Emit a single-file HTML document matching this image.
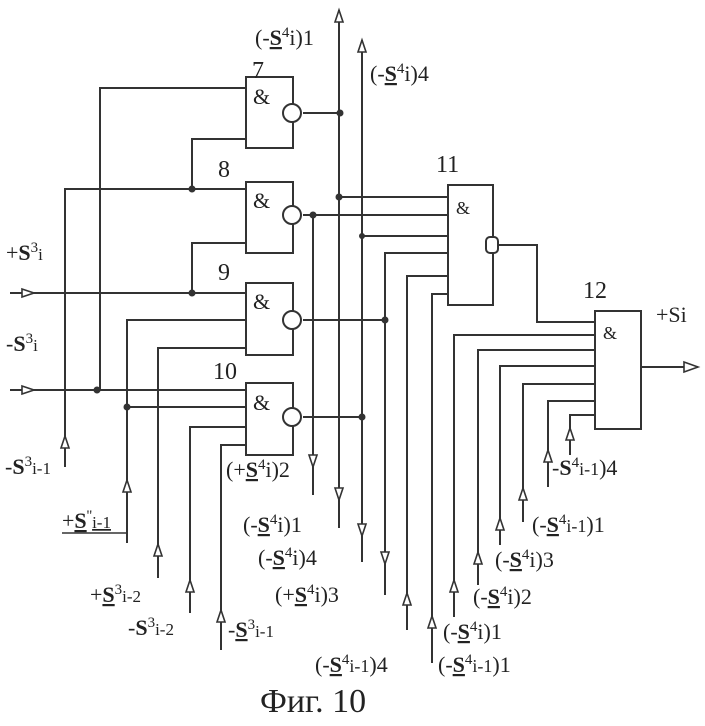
<!DOCTYPE html>
<html><head><meta charset="utf-8"><style>
html,body{margin:0;padding:0;background:#fff;}
svg{display:block;}
text{font-family:"Liberation Serif",serif;fill:#222;}
.l{stroke:#333;stroke-width:2;fill:none;}
.g{stroke:#333;stroke-width:2;fill:#fff;}
.d{fill:#333;}
.a{stroke:#333;stroke-width:1.6;fill:#fff;}
</style></head><body>
<svg width="705" height="726" viewBox="0 0 705 726" xmlns="http://www.w3.org/2000/svg">
<polyline class="l" points="246,88 100,88 100,390"/>
<polyline class="l" points="246,139 192,139 192,189"/>
<polyline class="l" points="246,189 65,189 65,467"/>
<polyline class="l" points="246,243 192,243 192,293"/>
<line class="l" x1="10" y1="293" x2="246" y2="293"/>
<polyline class="l" points="246,320 127,320 127,543"/>
<line class="l" x1="62" y1="533" x2="127" y2="533" style="stroke-width:1.5"/>
<polyline class="l" points="246,348 158,348 158,578"/>
<line class="l" x1="10" y1="390" x2="246" y2="390"/>
<line class="l" x1="127" y1="407" x2="246" y2="407"/>
<polyline class="l" points="246,427 190,427 190,613"/>
<polyline class="l" points="246,445 221,445 221,650"/>
<line class="l" x1="303" y1="113" x2="340" y2="113"/>
<line class="l" x1="303" y1="215" x2="448" y2="215"/>
<line class="l" x1="303" y1="320" x2="385" y2="320"/>
<line class="l" x1="303" y1="417" x2="362" y2="417"/>
<line class="l" x1="313" y1="215" x2="313" y2="495"/>
<line class="l" x1="339" y1="10" x2="339" y2="528"/>
<line class="l" x1="362" y1="40" x2="362" y2="562"/>
<line class="l" x1="339" y1="197" x2="448" y2="197"/>
<line class="l" x1="362" y1="236" x2="448" y2="236"/>
<polyline class="l" points="448,253 385,253 385,595"/>
<polyline class="l" points="448,276 407,276 407,630"/>
<polyline class="l" points="448,294 432,294 432,663"/>
<polyline class="l" points="496,245 537,245 537,322 595,322"/>
<polyline class="l" points="595,335 454,335 454,617"/>
<polyline class="l" points="595,350 478,350 478,585"/>
<polyline class="l" points="595,366 500,366 500,545"/>
<polyline class="l" points="595,384 523,384 523,522"/>
<polyline class="l" points="595,401 548,401 548,487"/>
<polyline class="l" points="595,415 570,415 570,455"/>
<line class="l" x1="641" y1="367" x2="698" y2="367"/>
<rect class="g" x="246" y="77" width="47" height="71"/>
<rect class="g" x="246" y="182" width="47" height="71"/>
<rect class="g" x="246" y="283" width="47" height="72"/>
<rect class="g" x="246" y="383" width="47" height="72"/>
<rect class="g" x="448" y="185" width="45" height="120"/>
<rect class="g" x="595" y="311" width="46" height="118"/>
<circle class="g" cx="292" cy="113" r="9"/>
<circle class="g" cx="292" cy="215" r="9"/>
<circle class="g" cx="292" cy="320" r="9"/>
<circle class="g" cx="292" cy="417" r="9"/>
<rect class="g" x="486" y="237" width="12" height="16" rx="4"/>
<g font-size="22"><text x="253" y="104">&amp;</text><text x="253" y="208">&amp;</text><text x="253" y="309">&amp;</text><text x="253" y="410">&amp;</text><text x="456" y="214" font-size="18">&amp;</text><text x="603" y="339" font-size="18">&amp;</text></g>
<g class="d">
<circle cx="340" cy="113" r="3.5"/><circle cx="192" cy="189" r="3.5"/><circle cx="192" cy="293" r="3.5"/>
<circle cx="97" cy="390" r="3.5"/><circle cx="127" cy="407" r="3.5"/><circle cx="313" cy="215" r="3.5"/>
<circle cx="339" cy="197" r="3.5"/><circle cx="362" cy="236" r="3"/><circle cx="385" cy="320" r="3.5"/>
<circle cx="362" cy="417" r="3.5"/>
</g>
<g class="a">
<polygon points="335,22 339,10 343,22"/>
<polygon points="358,52 362,40 366,52"/>
<polygon points="22,289 34,293 22,297"/>
<polygon points="22,386 34,390 22,394"/>
<polygon points="61,448 65,436 69,448"/>
<polygon points="123,492 127,480 131,492"/>
<polygon points="154,556 158,544 162,556"/>
<polygon points="186,592 190,580 194,592"/>
<polygon points="217,622 221,610 225,622"/>
<polygon points="309,455 313,467 317,455"/>
<polygon points="335,488 339,500 343,488"/>
<polygon points="358,524 362,536 366,524"/>
<polygon points="381,552 385,564 389,552"/>
<polygon points="403,605 407,593 411,605"/>
<polygon points="428,628 432,616 436,628"/>
<polygon points="450,592 454,580 458,592"/>
<polygon points="474,564 478,552 482,564"/>
<polygon points="496,530 500,518 504,530"/>
<polygon points="519,500 523,488 527,500"/>
<polygon points="544,462 548,450 552,462"/>
<polygon points="566,440 570,428 574,440"/>
<polygon points="684,362 698,367 684,372"/>
</g>
<g font-size="24">
<text x="252" y="78">7</text><text x="218" y="177">8</text><text x="218" y="280">9</text>
<text x="213" y="379">10</text><text x="436" y="172">11</text><text x="583" y="298">12</text>
</g>
<g font-size="22">
<text x="656" y="322">+Si</text>
<text x="6" y="260">+<tspan font-weight="bold">S</tspan><tspan font-size="15" dy="-8">3</tspan><tspan font-size="17" dy="8">i</tspan></text>
<text x="6" y="351">-<tspan font-weight="bold">S</tspan><tspan font-size="15" dy="-8">3</tspan><tspan font-size="17" dy="8">i</tspan></text>
<text x="5" y="474">-<tspan font-weight="bold">S</tspan><tspan font-size="15" dy="-8">3</tspan><tspan font-size="17" dy="8">i-1</tspan></text>
<text x="62" y="528">+<tspan text-decoration="underline" font-weight="bold">S</tspan><tspan font-size="15" dy="-8">''</tspan><tspan font-size="17" dy="8" text-decoration="underline">i-1</tspan></text>
<text x="90" y="602">+<tspan font-weight="bold" text-decoration="underline">S</tspan><tspan font-size="15" dy="-8">3</tspan><tspan font-size="17" dy="8">i-2</tspan></text>
<text x="128" y="635">-<tspan font-weight="bold">S</tspan><tspan font-size="15" dy="-8">3</tspan><tspan font-size="17" dy="8">i-2</tspan></text>
<text x="228" y="637">-<tspan font-weight="bold" text-decoration="underline">S</tspan><tspan font-size="15" dy="-8">3</tspan><tspan font-size="17" dy="8">i-1</tspan></text>
<text x="226" y="477">(+<tspan font-weight="bold" text-decoration="underline">S</tspan><tspan font-size="15" dy="-8">4</tspan><tspan dy="8">i)2</tspan></text>
<text x="243" y="532">(-<tspan font-weight="bold" text-decoration="underline">S</tspan><tspan font-size="15" dy="-8">4</tspan><tspan dy="8">i)1</tspan></text>
<text x="258" y="565">(-<tspan font-weight="bold" text-decoration="underline">S</tspan><tspan font-size="15" dy="-8">4</tspan><tspan dy="8">i)4</tspan></text>
<text x="275" y="602">(+<tspan font-weight="bold" text-decoration="underline">S</tspan><tspan font-size="15" dy="-8">4</tspan><tspan dy="8">i)3</tspan></text>
<text x="315" y="672">(-<tspan font-weight="bold" text-decoration="underline">S</tspan><tspan font-size="15" dy="-8">4</tspan><tspan dy="8" font-size="18">i-1</tspan>)4</text>
<text x="438" y="672">(-<tspan font-weight="bold" text-decoration="underline">S</tspan><tspan font-size="15" dy="-8">4</tspan><tspan dy="8" font-size="18">i-1</tspan>)1</text>
<text x="443" y="639">(-<tspan font-weight="bold" text-decoration="underline">S</tspan><tspan font-size="15" dy="-8">4</tspan><tspan dy="8">i)1</tspan></text>
<text x="473" y="604">(-<tspan font-weight="bold" text-decoration="underline">S</tspan><tspan font-size="15" dy="-8">4</tspan><tspan dy="8">i)2</tspan></text>
<text x="495" y="567">(-<tspan font-weight="bold" text-decoration="underline">S</tspan><tspan font-size="15" dy="-8">4</tspan><tspan dy="8">i)3</tspan></text>
<text x="532" y="532">(-<tspan font-weight="bold" text-decoration="underline">S</tspan><tspan font-size="15" dy="-8">4</tspan><tspan dy="8" font-size="18">i-1</tspan>)1</text>
<text x="552" y="475">-<tspan font-weight="bold">S</tspan><tspan font-size="15" dy="-8">4</tspan><tspan dy="8" font-size="18">i-1</tspan>)4</text>
<text x="255" y="45">(-<tspan font-weight="bold" text-decoration="underline">S</tspan><tspan font-size="15" dy="-8">4</tspan><tspan dy="8">i)1</tspan></text>
<text x="370" y="81">(-<tspan font-weight="bold" text-decoration="underline">S</tspan><tspan font-size="15" dy="-8">4</tspan><tspan dy="8">i)4</tspan></text>
</g>
<text x="260" y="712" font-size="34">Фиг. 10</text>
</svg>
</body></html>
